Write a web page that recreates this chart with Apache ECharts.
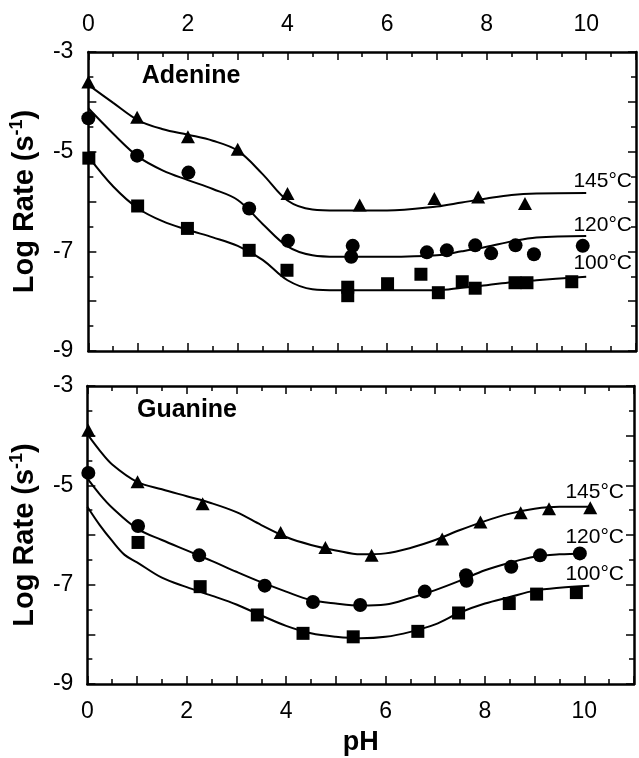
<!DOCTYPE html>
<html>
<head>
<meta charset="utf-8">
<script src="https://cdn.jsdelivr.net/npm/echarts@6/dist/echarts.min.js"></script>
<style>
  html,body{margin:0;padding:0;background:#fff;}
  #chart{width:639px;height:758px;}
</style>
</head>
<body>
<div id="chart"></div>
<script>
// ---- Adenine (top panel): measured points [pH, log rate]
var adenine145 = [[0,-3.6],[0.98,-4.31],[2.0,-4.70],[3.0,-4.95],[4.0,-5.84],[5.45,-6.07],[6.95,-5.94],[7.83,-5.91],[8.77,-6.04]];
var adenine120 = [[0,-4.33],[0.98,-5.08],[2.01,-5.42],[3.23,-6.14],[4.01,-6.79],[5.31,-6.89],[5.28,-7.11],[6.8,-7.02],[7.2,-6.98],[7.77,-6.88],[8.09,-7.04],[8.58,-6.88],[8.95,-7.06],[9.93,-6.89]];
var adenine100 = [[0.01,-5.13],[0.99,-6.09],[1.99,-6.54],[3.23,-6.98],[3.99,-7.38],[5.21,-7.72],[5.21,-7.89],[6.01,-7.65],[6.68,-7.46],[7.03,-7.83],[7.51,-7.61],[7.77,-7.74],[8.57,-7.63],[8.81,-7.63],[9.71,-7.61]];
// fitted curves
var adenineFit145 = [[0,-3.66],[0.5,-4.02],[1,-4.37],[1.5,-4.55],[2,-4.66],[2.5,-4.78],[3,-4.98],[3.5,-5.45],[4,-5.98],[4.5,-6.16],[5,-6.18],[6,-6.18],[7,-6.1],[7.5,-6.02],[8,-5.94],[8.5,-5.87],[9,-5.84],[10,-5.83]];
var adenineFit120 = [[0,-4.13],[0.5,-4.64],[1,-5.10],[1.5,-5.38],[2,-5.57],[2.5,-5.75],[3,-5.97],[3.5,-6.45],[4,-6.9],[4.5,-7.08],[5,-7.11],[6,-7.11],[7,-7.08],[7.5,-7.0],[8,-6.91],[8.5,-6.8],[9,-6.72],[10,-6.69]];
var adenineFit100 = [[0,-5.10],[0.5,-5.7],[1,-6.14],[1.5,-6.4],[2,-6.57],[2.5,-6.72],[3,-6.89],[3.5,-7.17],[4,-7.58],[4.5,-7.76],[5,-7.78],[6,-7.78],[7,-7.78],[7.5,-7.73],[8,-7.68],[8.5,-7.62],[9,-7.58],[10,-7.51]];

// ---- Guanine (bottom panel)
var guanine145 = [[0.02,-3.89],[1.01,-4.93],[2.32,-5.37],[3.89,-5.95],[4.79,-6.25],[5.72,-6.41],[7.14,-6.08],[7.91,-5.74],[8.72,-5.55],[9.29,-5.47],[10.12,-5.45]];
var guanine120 = [[0.02,-4.75],[1.02,-5.82],[2.25,-6.41],[3.57,-7.02],[4.54,-7.35],[5.49,-7.41],[6.79,-7.14],[7.62,-6.81],[7.63,-6.92],[8.53,-6.64],[9.11,-6.41],[9.91,-6.37]];
var guanine100 = [[1.02,-6.15],[2.27,-7.04],[3.42,-7.61],[4.34,-7.98],[5.35,-8.05],[6.65,-7.94],[7.47,-7.57],[8.49,-7.38],[9.04,-7.19],[9.84,-7.16]];
var guanineFit145 = [[0,-3.97],[0.25,-4.3],[0.5,-4.58],[1,-4.93],[1.5,-5.08],[2,-5.22],[2.5,-5.36],[3,-5.54],[3.5,-5.8],[4,-6.04],[4.5,-6.2],[5,-6.31],[5.5,-6.39],[6,-6.37],[6.5,-6.26],[7,-6.1],[7.5,-5.9],[8,-5.72],[8.5,-5.57],[9,-5.47],[9.5,-5.43],[10.1,-5.43]];
var guanineFit120 = [[0,-4.86],[0.25,-5.18],[0.5,-5.45],[1,-5.87],[1.5,-6.1],[2,-6.31],[2.5,-6.52],[3,-6.74],[3.5,-6.95],[4,-7.14],[4.5,-7.31],[5,-7.38],[5.5,-7.42],[6,-7.4],[6.5,-7.27],[7,-7.11],[7.5,-6.92],[8,-6.71],[8.5,-6.56],[9,-6.44],[9.5,-6.39],[10,-6.37]];
var guanineFit100 = [[0,-5.43],[0.25,-5.8],[0.5,-6.12],[0.75,-6.4],[1,-6.55],[1.5,-6.86],[2,-7.05],[2.5,-7.22],[3,-7.4],[3.5,-7.62],[4,-7.83],[4.5,-7.98],[5,-8.05],[5.5,-8.08],[6,-8.05],[6.5,-7.95],[7,-7.8],[7.5,-7.56],[8,-7.38],[8.5,-7.25],[9,-7.12],[9.5,-7.06],[10.1,-7.02]];

var tempLabels = ['145°C','120°C','100°C'];
var panelNames = ['Adenine','Guanine'];

var FONT = '"Liberation Sans", Arial, Helvetica, sans-serif';
var black = '#000';

function xAxisOf(grid, pos, showLabel, extra){
    var ax = {
        type:'value', gridIndex:grid, position:pos, min:0, max:11, interval:1,
        axisLine:{show:true, onZero:false, lineStyle:{color:black, width:2.5}},
        axisTick:{show:true, inside:true, length:8, lineStyle:{color:black, width:1.5}},
        minorTick:{show:true, splitNumber:2, length:5, lineStyle:{color:black, width:1.5}},
        splitLine:{show:false},
        axisLabel:{
            show:showLabel, margin:16, color:black, fontSize:23, fontFamily:FONT,
            formatter:function(v){ return (v % 2 === 0 && v <= 10) ? String(v) : ''; }
        }
    };
    for(var k in extra){ ax[k]=extra[k]; }
    return ax;
}
function yAxisOf(grid, pos, showLabel, margin, extra){
    var ax = {
        type:'value', gridIndex:grid, position:pos, min:-9, max:-3, interval:1,
        axisLine:{show:true, onZero:false, lineStyle:{color:black, width:2.5}},
        axisTick:{show:true, inside:true, length:8, lineStyle:{color:black, width:1.5}},
        minorTick:{show:true, splitNumber:2, length:5, lineStyle:{color:black, width:1.5}},
        splitLine:{show:false},
        axisLabel:{
            show:showLabel, margin:margin, color:black, fontSize:23, fontFamily:FONT,
            formatter:function(v){ return (Math.abs(v) % 2 === 1) ? String(v) : ''; }
        }
    };
    for(var k in extra){ ax[k]=extra[k]; }
    return ax;
}

function yName(gap){
    return {
        name:'Log Rate (s{sup|-1})',
        nameLocation:'middle', nameRotate:90, nameGap:gap,
        nameTextStyle:{
            color:black, fontSize:29, fontWeight:'bold', fontFamily:FONT, lineHeight:34,
            rich:{ sup:{fontSize:18, fontWeight:'bold', fontFamily:FONT, color:black, verticalAlign:'top', lineHeight:20} }
        }
    };
}

function fitLine(data, x, y){
    return {type:'line', xAxisIndex:x, yAxisIndex:y, data:data, smooth:0.35, symbol:'none',
        lineStyle:{color:black, width:2}, z:2, silent:true};
}
function points(data, x, y, sym, size){
    return {type:'scatter', xAxisIndex:x, yAxisIndex:y, data:data, symbol:sym, symbolSize:size,
        itemStyle:{color:black, opacity:1}, z:3, silent:true};
}

function label(text, x, y, align, bold, size){
    return {type:'text', x:x, y:y, silent:true, style:{
        text:text, fill:black, textAlign:align, textVerticalAlign:'middle',
        font:(bold?'bold ':'')+size+'px '+FONT}};
}

var chart = echarts.init(document.getElementById('chart'));
var option = {
    animation:false,
    backgroundColor:'#fff',
    grid:[
        {left:88, top:52, width:550, height:299},
        {left:84, top:386, width:550, height:298}
    ],
    xAxis:[
        xAxisOf(0,'top',true,{}),
        xAxisOf(0,'bottom',false,{}),
        xAxisOf(1,'bottom',true,{name:'pH', nameLocation:'middle', nameGap:45,
            nameTextStyle:{color:black, fontSize:27, fontWeight:'bold', fontFamily:FONT}}),
        xAxisOf(1,'top',false,{})
    ],
    yAxis:[
        yAxisOf(0,'left',true,15,yName(38)),
        yAxisOf(0,'right',false,15,{}),
        yAxisOf(1,'left',true,14,yName(34)),
        yAxisOf(1,'right',false,14,{})
    ],
    series:[
        fitLine(adenineFit145,0,0), fitLine(adenineFit120,0,0), fitLine(adenineFit100,0,0),
        points(adenine145,0,0,'triangle',[14,13]),
        points(adenine120,0,0,'circle',14),
        points(adenine100,0,0,'rect',13),
        fitLine(guanineFit145,2,2), fitLine(guanineFit120,2,2), fitLine(guanineFit100,2,2),
        points(guanine145,2,2,'triangle',[14,13]),
        points(guanine120,2,2,'circle',14),
        points(guanine100,2,2,'rect',13)
    ],
    graphic:[
        label(panelNames[0],191,76,'center',true,25),
        label(panelNames[1],187,410,'center',true,25),
        label(tempLabels[0],632,181,'right',false,21),
        label(tempLabels[1],632,225,'right',false,21),
        label(tempLabels[2],632,263,'right',false,21),
        label(tempLabels[0],624,492,'right',false,21),
        label(tempLabels[1],624,537,'right',false,21),
        label(tempLabels[2],624,574,'right',false,21)
    ]
};
chart.setOption(option);
</script>
</body>
</html>
